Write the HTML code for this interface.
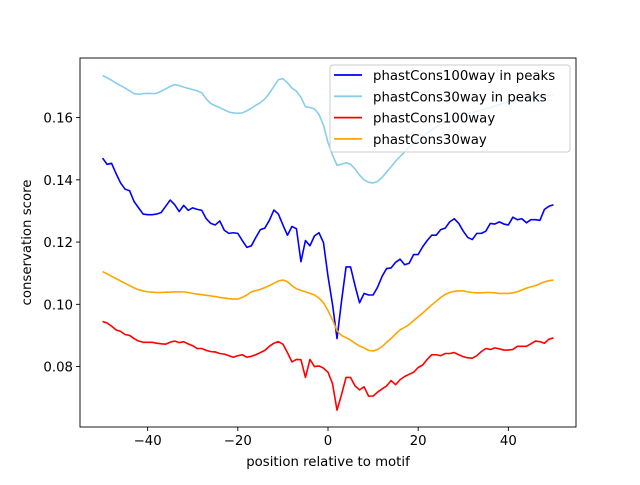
<!DOCTYPE html>
<html><head><meta charset="utf-8"><style>
body{margin:0;background:#fff}
svg text{font-family:"DejaVu Sans","Liberation Sans",sans-serif;font-size:13.3px;fill:#000}
</style></head><body>
<svg id="chart" width="640" height="480" xmlns="http://www.w3.org/2000/svg">
<rect width="640" height="480" fill="#fff"/>
<g id="plot"></g>
</svg>
<script>
const positions = [-50,-49,-48,-47,-46,-45,-44,-43,-42,-41,-40,-39,-38,-37,-36,-35,-34,-33,-32,-31,-30,-29,-28,-27,-26,-25,-24,-23,-22,-21,-20,-19,-18,-17,-16,-15,-14,-13,-12,-11,-10,-9,-8,-7,-6,-5,-4,-3,-2,-1,0,1,2,3,4,5,6,7,8,9,10,11,12,13,14,15,16,17,18,19,20,21,22,23,24,25,26,27,28,29,30,31,32,33,34,35,36,37,38,39,40,41,42,43,44,45,46,47,48,49,50];
const phast100Peaks = [0.147,0.145,0.1453,0.142,0.139,0.137,0.1365,0.133,0.131,0.129,0.1288,0.1288,0.129,0.1295,0.1315,0.1335,0.132,0.1298,0.1318,0.1302,0.131,0.1305,0.1302,0.1275,0.126,0.1255,0.1268,0.1238,0.1228,0.123,0.1228,0.1205,0.1183,0.1188,0.1215,0.124,0.1245,0.127,0.1303,0.129,0.1255,0.1222,0.125,0.1243,0.1137,0.1205,0.1188,0.122,0.123,0.1198,0.109,0.1,0.089,0.101,0.112,0.112,0.106,0.1005,0.1035,0.103,0.103,0.1055,0.109,0.1115,0.1117,0.1135,0.1145,0.1127,0.1132,0.116,0.116,0.1185,0.1205,0.1222,0.1222,0.124,0.1245,0.1265,0.1275,0.126,0.1235,0.1215,0.1208,0.1228,0.1228,0.1235,0.126,0.1258,0.1265,0.1258,0.1255,0.128,0.1272,0.1275,0.1262,0.1272,0.1272,0.127,0.1305,0.1315,0.132];
const phast30Peaks = [0.1735,0.1728,0.172,0.1711,0.1703,0.1695,0.1686,0.1677,0.1675,0.1677,0.1678,0.1677,0.1678,0.1685,0.1692,0.17,0.1706,0.1703,0.1698,0.1694,0.169,0.1686,0.168,0.166,0.1645,0.1638,0.1632,0.1625,0.1618,0.1615,0.1614,0.1615,0.1622,0.163,0.164,0.1648,0.166,0.1678,0.17,0.1722,0.1725,0.1712,0.1695,0.1685,0.1665,0.1635,0.1632,0.1628,0.161,0.1575,0.152,0.148,0.1447,0.145,0.1455,0.145,0.1435,0.1415,0.14,0.1392,0.139,0.1395,0.1408,0.1425,0.1442,0.146,0.1475,0.149,0.1505,0.1518,0.153,0.154,0.155,0.156,0.157,0.1578,0.1584,0.159,0.1597,0.1603,0.1608,0.1612,0.1616,0.162,0.1624,0.1628,0.1632,0.1637,0.1642,0.1647,0.165,0.1652,0.1655,0.1658,0.166,0.1662,0.1665,0.1667,0.1669,0.167,0.1672];
const phast100 = [0.0945,0.094,0.093,0.0918,0.0913,0.0903,0.09,0.089,0.0882,0.0878,0.0878,0.0878,0.0875,0.0873,0.0872,0.0878,0.0882,0.0877,0.088,0.0873,0.0867,0.0858,0.0858,0.0852,0.0848,0.0847,0.0842,0.084,0.0835,0.083,0.0835,0.0838,0.083,0.0833,0.0838,0.0845,0.0852,0.0865,0.0875,0.088,0.0872,0.0845,0.0815,0.0823,0.0822,0.0765,0.0823,0.08,0.0802,0.0795,0.0782,0.0745,0.066,0.071,0.0765,0.0765,0.0738,0.0725,0.0735,0.0705,0.0705,0.0718,0.0728,0.0738,0.0755,0.0742,0.0758,0.0768,0.0775,0.0782,0.0797,0.0805,0.0823,0.0838,0.0838,0.0835,0.0842,0.0842,0.0845,0.0838,0.0832,0.0828,0.0827,0.0835,0.0848,0.0858,0.0855,0.086,0.0857,0.0853,0.0853,0.0855,0.0865,0.0865,0.0865,0.0873,0.0882,0.088,0.0875,0.0888,0.0892];
const phast30 = [0.1105,0.1098,0.109,0.1083,0.1075,0.1068,0.106,0.1053,0.1047,0.1043,0.104,0.1039,0.1038,0.1038,0.1039,0.1039,0.104,0.104,0.104,0.1038,0.1035,0.1033,0.1031,0.1029,0.1027,0.1025,0.1022,0.102,0.1018,0.1017,0.1017,0.1022,0.103,0.104,0.1044,0.1048,0.1054,0.106,0.1068,0.1075,0.1078,0.1073,0.106,0.105,0.1045,0.104,0.1035,0.103,0.102,0.1005,0.098,0.095,0.0915,0.09,0.0893,0.0885,0.0875,0.0866,0.086,0.0852,0.085,0.0855,0.0864,0.0878,0.089,0.0905,0.0918,0.0926,0.0935,0.0948,0.096,0.0972,0.0985,0.0998,0.101,0.1022,0.1032,0.1038,0.1042,0.1043,0.1043,0.104,0.1038,0.1037,0.1037,0.1038,0.1038,0.1037,0.1035,0.1035,0.1035,0.1037,0.104,0.1046,0.1052,0.1056,0.106,0.1066,0.1072,0.1076,0.1078];
const xTicks = [-40,-20,0,20,40];
const yTicks = [0.08,0.10,0.12,0.14,0.16];
const seriesNames = ["phastCons100way in peaks","phastCons30way in peaks","phastCons100way","phastCons30way"];
const seriesColors = ["#0000ff","#87ceeb","#ff0000","#ffa500"];
const seriesData = [phast100Peaks, phast30Peaks, phast100, phast30];

const L=80,R=576,T=58,B=427;
const xMin=-55,xMax=55,yMin=0.06058,yMax=0.17915;
const sx=v=>L+(v-xMin)/(xMax-xMin)*(R-L);
const sy=v=>B-(v-yMin)/(yMax-yMin)*(B-T);
const NS="http://www.w3.org/2000/svg";
const g=document.getElementById('plot');
function mk(tag,attrs,parent){const e=document.createElementNS(NS,tag);for(const k in attrs)e.setAttribute(k,attrs[k]);(parent||g).appendChild(e);return e;}

seriesData.forEach((arr,i)=>{
  const d=arr.map((v,j)=>(j?'L':'M')+sx(positions[j]).toFixed(2)+','+sy(v).toFixed(2)).join('');
  const p=mk('path',{d:d,fill:'none',stroke:seriesColors[i],'stroke-width':1.6,'stroke-linejoin':'round'});
  
  
});

const frame=mk('rect',{x:L,y:T,width:R-L,height:B-T,fill:'none',stroke:'#000','stroke-width':0.9});



xTicks.forEach(t=>{
  const x=sx(t);
  mk('line',{x1:x,x2:x,y1:B,y2:B+4,stroke:'#000','stroke-width':0.9});
  const tx=mk('text',{x:x,y:B+18,'text-anchor':'middle'});
  tx.textContent=(t<0?'\u2212'+(-t):t);
  
  
});
yTicks.forEach(t=>{
  const y=sy(t);
  mk('line',{x1:L-4,x2:L,y1:y,y2:y,stroke:'#000','stroke-width':0.9});
  const tx=mk('text',{x:L-7,y:y+5,'text-anchor':'end'});
  tx.textContent=t.toFixed(2);
  
  
});
const xt=mk('text',{x:(L+R)/2,y:466,'text-anchor':'middle'});
xt.textContent='position relative to motif';


const yt=mk('text',{x:0,y:0,'text-anchor':'middle',transform:`translate(31,${(T+B)/2}) rotate(-90)`});
yt.textContent='conservation score';



const lg=mk('g',{});


mk('rect',{x:330,y:65,width:240,height:87,rx:3,fill:'#fff','fill-opacity':0.8,stroke:'#ccc','stroke-width':1},lg);
seriesNames.forEach((n,i)=>{
  const y=75+i*21.3;
  const ln=mk('line',{x1:334,x2:362,y1:y,y2:y,stroke:seriesColors[i],'stroke-width':1.8},lg);
  
  
  const tx=mk('text',{x:373,y:y+5},lg);
  tx.textContent=n;
  
  
});
</script>
</body></html>
